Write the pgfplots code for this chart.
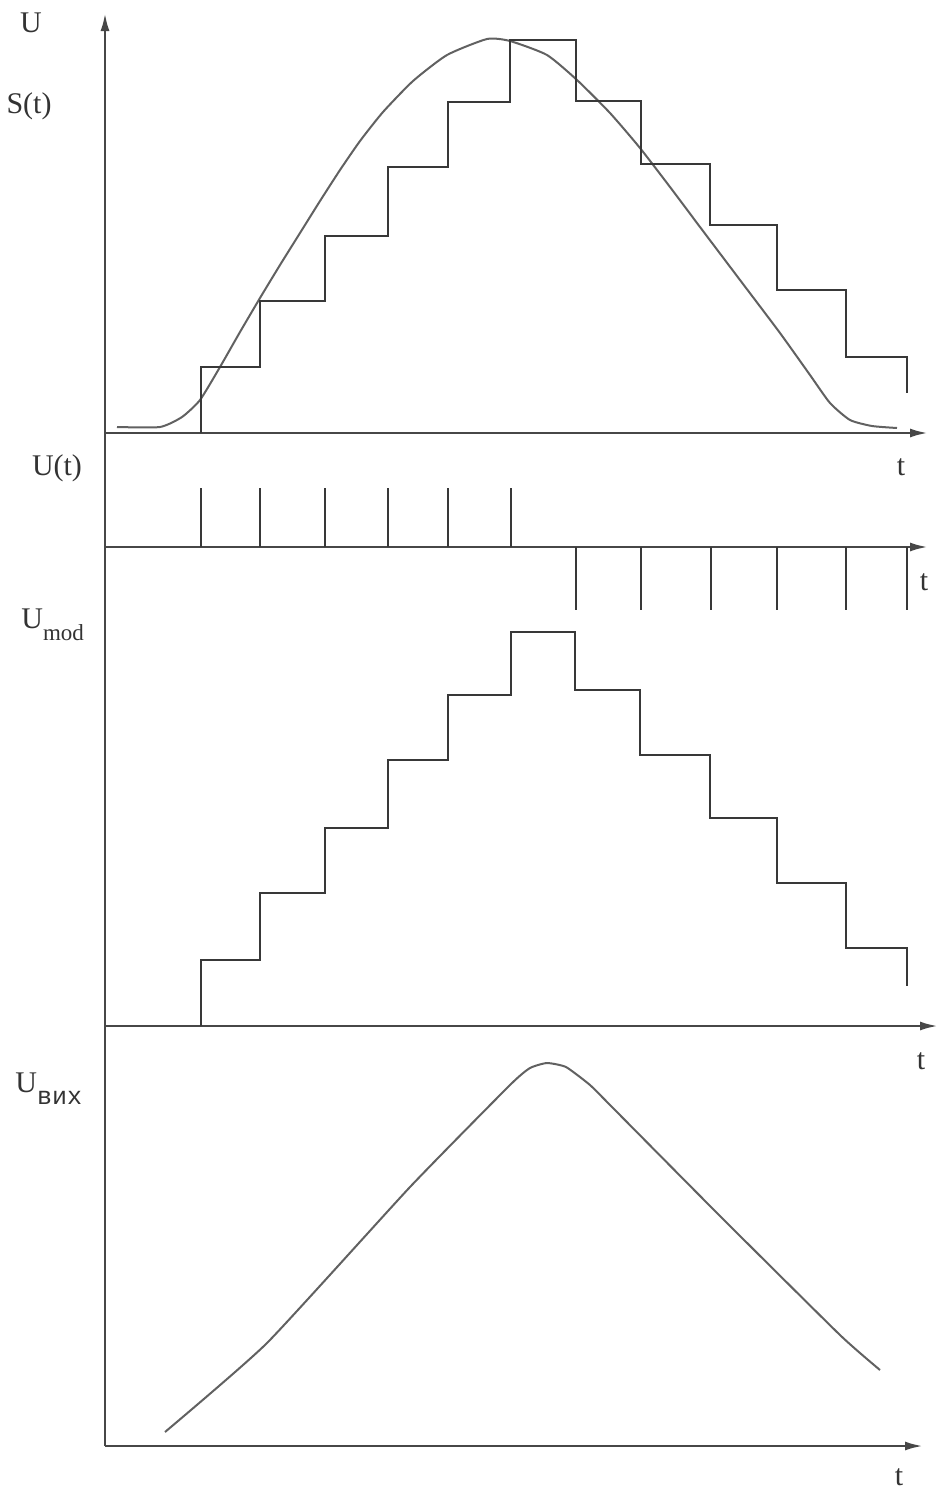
\documentclass[border=0pt]{standalone}
\usepackage{fontspec}
\setmainfont{Liberation Serif}
\newfontfamily\monofont{Liberation Mono}
\usepackage{pgfplots}
\pgfplotsset{compat=1.18}
\usetikzlibrary{arrows.meta}

\begin{document}
\begin{tikzpicture}
\begin{axis}[
    scale only axis,
    width=469.5pt, height=745pt,
    xmin=0, xmax=939, ymin=0, ymax=1490,
    y dir=reverse,
    hide axis,
    clip=false,
    every axis plot/.append style={mark=none},
    ax/.style={black!72, line width=1.3pt, -{Latex[length=9pt,width=4.5pt]}},
    step/.style={black!78, line width=1.1pt},
    curve/.style={black!62, line width=1pt, smooth, tension=0.35},
]
\path (axis cs:0,0) rectangle (axis cs:939,1490);

% axes
\addplot[ax] coordinates {(105,1446) (105,13)};
\addplot[ax] coordinates {(105,433) (928,433)};
\addplot[ax] coordinates {(105,547) (928,547)};
\addplot[ax] coordinates {(105,1026) (938,1026)};
\addplot[ax] coordinates {(105,1446) (923,1446)};

% S(t) signal
\addplot[curve] coordinates {
(117,427) (160,427) (182,417) (200,400) (220,367) (240,332) (260,298)
(280,265) (300,233) (320,201) (340,170) (360,141) (383,112) (413,81)
(447,55) (487,39) (510,41) (547,55) (577,80) (610,113) (640,148)
(670,187) (700,227) (740,280) (780,333) (810,375) (830,403) (850,420)
(872,426) (897,428)};

% sampled steps, top panel
\addplot[step] coordinates {
(201,433) (201,367) (260,367) (260,301) (325,301) (325,236) (388,236)
(388,167) (448,167) (448,102) (510,102) (510,40) (576,40) (576,101)
(641,101) (641,164) (710,164) (710,225) (777,225) (777,290) (846,290)
(846,357) (907,357) (907,393)};

% impulses U(t)
\addplot[step, unbounded coords=jump] coordinates {
(201,547) (201,488) (201,nan) (260,547) (260,488) (260,nan)
(325,547) (325,488) (325,nan) (388,547) (388,488) (388,nan)
(448,547) (448,488) (448,nan) (511,547) (511,488) (511,nan)
(576,547) (576,610) (576,nan) (641,547) (641,610) (641,nan)
(711,547) (711,610) (711,nan) (777,547) (777,610) (777,nan)
(846,547) (846,610) (846,nan) (907,547) (907,610)};

% U_mod steps
\addplot[step] coordinates {
(201,1026) (201,960) (260,960) (260,893) (325,893) (325,828) (388,828)
(388,760) (448,760) (448,695) (511,695) (511,632) (575,632) (575,690)
(640,690) (640,755) (710,755) (710,818) (777,818) (777,883) (846,883)
(846,948) (907,948) (907,986)};

% output U_vih
\addplot[curve, tension=0.3] coordinates {
(165,1432) (267,1343) (410,1187) (510,1085) (530,1068) (547,1063)
(566,1067) (590,1085) (613,1108) (720,1216) (840,1335) (880,1370)};

% labels
\begin{scope}[every node/.style={font=\fontsize{15}{16}\selectfont, text=black!80, inner sep=0pt}]
\node at (axis cs:31,23) {U};
\node at (axis cs:29,106) {S(t)};
\node at (axis cs:57,468) {U(t)};
\node[anchor=base west] at (axis cs:21,628) {U\raisebox{-6pt}{\fontsize{11.5}{12}\selectfont mod}};
\node[anchor=base west] at (axis cs:15,1092) {U\raisebox{-6pt}{\monofont\fontsize{12.5}{12}\selectfont вих}};
\node at (axis cs:901,467) {t};
\node at (axis cs:924,582) {t};
\node at (axis cs:921,1061) {t};
\node at (axis cs:899,1477) {t};
\end{scope}
\end{axis}
\end{tikzpicture}
\end{document}
